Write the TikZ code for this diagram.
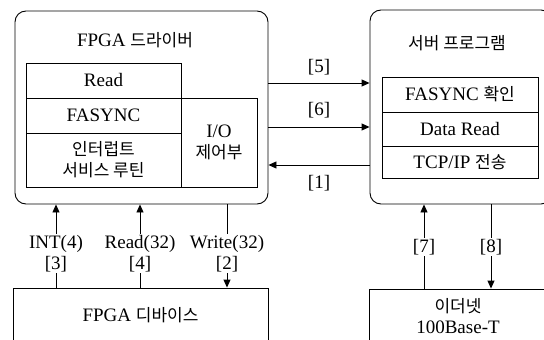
\documentclass[tikz,border=0pt]{standalone}
\usepackage{fontspec}
\setmainfont{Liberation Serif}
\newfontfamily\krfont{Noto Sans CJK KR}
\newcommand\K[1]{{\krfont\fontsize{17}{21}\selectfont #1}}
\usetikzlibrary{arrows.meta}

\begin{document}
\begin{tikzpicture}[x=1pt,y=-1pt,
  font=\fontsize{19}{21}\selectfont,
  frame/.style={draw, line width=0.9pt, rounded corners=11pt, inner sep=0pt},
  cell/.style={draw, line width=0.9pt, inner sep=0pt, align=center},
  link/.style={line width=0.9pt},
  tip/.style={-{Triangle[length=8pt,width=7pt]}},
  gap/.style={fill=white, inner sep=1pt, align=center}]
\clip (0,0) rectangle (544,340);

% driver block
\node[frame, minimum width=253, minimum height=193] (drv) at (141.5,107.5) {};
\node (drvT) at (135,40) {FPGA \K{드라이버}};
\node[cell, minimum width=155, minimum height=35] (rd) at (103.5,80.5) {Read};
\node[cell, minimum width=155, minimum height=35] (fa) at (103.5,115.5) {FASYNC};
\node[cell, minimum width=155, minimum height=54] (isr) at (103.5,160) {\K{인터럽트}\\\K{서비스 루틴}};
\node[cell, minimum width=76, minimum height=89] (io) at (219,142.5) {I/O\\\K{제어부}};

% server block
\node[frame, minimum width=182, minimum height=194] (srv) at (461,107) {};
\node (srvT) at (457,43) {\K{서버 프로그램}};
\node[cell, minimum width=156, minimum height=35] (f1) at (460,94.5) {FASYNC \K{확인}};
\node[cell, minimum width=156, minimum height=34] (f2) at (460,129) {Data Read};
\node[cell, minimum width=156, minimum height=32] (f3) at (460,162) {TCP/IP \K{전송}};

% device and network blocks
\node[cell, minimum width=255, minimum height=54] (dev) at (140.5,315) {FPGA \K{디바이스}};
\node[cell, minimum width=178, minimum height=54] (eth) at (458,316) {\K{이더넷}\\100Base-T};

% driver <-> server
\coordinate (y5) at (0,83);
\coordinate (y6) at (0,127);
\coordinate (y1) at (0,165);
\draw[link,tip] (drv.east |- y5) -- (srv.west |- y5) node[midway, yshift=16pt] {[5]};
\draw[link,tip] (drv.east |- y6) -- (srv.west |- y6) node[midway, yshift=17pt] {[6]};
\draw[link,tip] (srv.west |- y1) -- (drv.east |- y1) node[midway, yshift=-18pt] {[1]};

% device <-> driver
\coordinate (xa) at (56,0);
\coordinate (xb) at (140,0);
\coordinate (xc) at (227,0);
\draw[link,tip] (dev.north -| xa) -- (drv.south -| xa) node[gap, pos=0.41] {INT(4)\\{[3]}};
\draw[link,tip] (dev.north -| xb) -- (drv.south -| xb) node[gap, pos=0.41] {Read(32)\\{[4]}};
\draw[link,tip] (drv.south -| xc) -- (dev.north -| xc) node[gap, pos=0.59] {Write(32)\\{[2]}};

% network <-> server
\coordinate (xd) at (424,0);
\coordinate (xe) at (491,0);
\draw[link,tip] (eth.north -| xd) -- (srv.south -| xd) node[gap, pos=0.49] {[7]};
\draw[link,tip] (srv.south -| xe) -- (eth.north -| xe) node[gap, pos=0.51] {[8]};
\end{tikzpicture}
\end{document}
